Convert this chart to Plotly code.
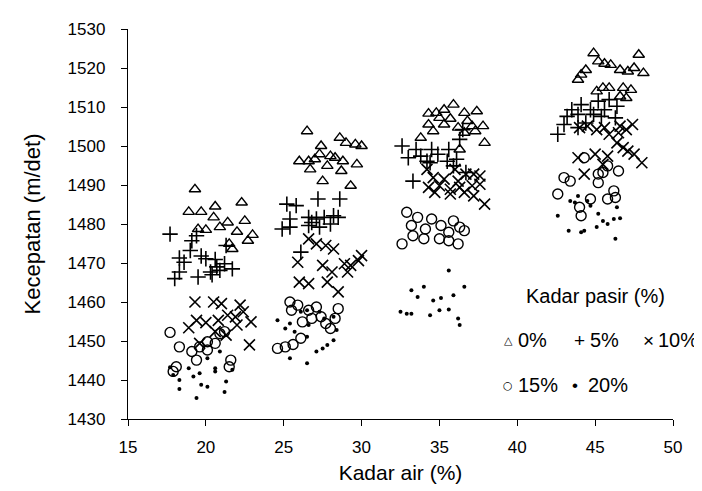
import plotly.graph_objects as go

# ---- data (Kadar air %, Kecepatan m/det) ----
x_p0 = [19.3, 18.9, 19.7, 20.6, 20.5, 22.3, 22.5, 21.4, 20.9, 22.0, 19.5, 20.0, 23.0, 22.7, 21.5, 21.7,
        26.5, 28.6, 29.0, 29.6, 30.0, 27.4, 27.3, 28.0, 28.3, 26.0, 26.6, 27.0, 28.8, 29.7, 27.8, 26.7, 28.7, 27.5, 29.3,
        35.9, 35.3, 34.8, 34.3, 36.6, 37.4, 35.0, 35.7, 36.8, 34.3, 35.3, 36.2, 37.1, 37.8, 34.6, 36.6, 37.3, 33.8, 37.9, 36.3,
        44.9, 47.8, 45.2, 45.6, 46.0, 46.6, 47.1, 47.5, 48.1, 44.4, 44.1, 43.9, 45.5, 45.9, 46.8, 47.3, 45.1, 47.0, 46.6]
y_p0 = [1488.9, 1483.1, 1483.1, 1484.5, 1481.7, 1485.5, 1480.8, 1480.4, 1479.2, 1478.0, 1478.7, 1478.5, 1477.2, 1475.7, 1474.9, 1473.6,
        1503.8, 1502.1, 1500.8, 1500.4, 1500.0, 1500.0, 1497.9, 1497.4, 1497.0, 1496.1, 1496.1, 1496.6, 1496.1, 1495.3, 1494.9, 1494.0, 1493.6, 1491.0, 1489.8,
        1510.6, 1509.3, 1508.5, 1508.3, 1508.5, 1508.9, 1507.2, 1507.0, 1506.4, 1505.5, 1505.5, 1504.7, 1505.1, 1505.1, 1503.8, 1503.4, 1503.8, 1502.1, 1500.8, 1499.1,
        1523.8, 1523.4, 1521.7, 1521.1, 1520.8, 1519.5, 1519.1, 1520.0, 1518.7, 1519.5, 1518.3, 1517.0, 1514.9, 1514.9, 1514.9, 1514.4, 1514.0, 1512.3, 1512.7]

x_p5 = [17.7, 19.1, 19.4, 19.0, 19.7, 18.3, 18.6, 20.0, 20.6, 21.2, 18.3, 18.0, 19.5, 20.3, 20.9, 21.7, 21.3, 20.4, 20.7,
        25.2, 25.8, 27.2, 28.6, 25.4, 24.9, 25.4, 26.6, 27.1, 27.6, 28.2, 26.6, 27.3, 28.0, 28.5, 26.1, 26.8,
        32.6, 33.5, 34.5, 35.6, 33.0, 33.8, 34.9, 36.1, 35.5, 34.2, 36.3, 33.3, 35.9, 36.7, 34.4, 36.5,
        44.1, 45.2, 45.9, 43.5, 44.7, 45.6, 46.4, 43.2, 43.9, 44.9, 45.4, 46.3, 43.0, 42.6, 44.4, 43.9]
y_p5 = [1477.4, 1475.7, 1477.0, 1473.2, 1471.8, 1471.3, 1470.2, 1471.1, 1470.9, 1469.8, 1467.7, 1466.0, 1466.4, 1467.7, 1468.1, 1468.5, 1474.5, 1467.0, 1469.0,
        1485.1, 1484.7, 1486.4, 1486.4, 1481.3, 1478.7, 1479.2, 1481.7, 1481.3, 1481.7, 1482.1, 1479.6, 1479.2, 1480.0, 1481.7, 1472.8, 1480.4,
        1500.0, 1499.1, 1499.1, 1499.1, 1497.0, 1497.4, 1497.9, 1496.6, 1496.1, 1496.1, 1501.7, 1491.0, 1494.9, 1493.2, 1495.7, 1504.2,
        1510.6, 1511.5, 1511.9, 1509.3, 1509.3, 1509.3, 1510.2, 1507.6, 1508.1, 1508.1, 1507.6, 1507.2, 1505.5, 1503.0, 1505.9, 1504.7]

x_p10 = [19.3, 20.5, 21.0, 22.2, 19.4, 18.9, 20.0, 20.8, 21.4, 21.9, 22.4, 22.9, 22.0, 21.3, 19.6, 22.8, 20.6,
         26.6, 27.1, 27.7, 28.2, 25.9, 27.5, 28.1, 28.9, 29.3, 29.8, 30.0, 29.1, 26.0, 26.6, 27.8, 28.5,
         34.6, 35.3, 36.2, 36.7, 37.2, 37.6, 34.3, 35.0, 35.7, 36.3, 37.1, 37.6, 34.7, 35.7, 36.6, 37.2, 37.9, 34.2, 36.0,
         44.0, 44.5, 45.1, 45.6, 46.6, 47.4, 45.9, 46.5, 47.0, 46.4, 46.8, 47.1, 47.5, 48.0, 43.9, 45.0, 45.8, 44.3, 45.5]
y_p10 = [1460.0, 1460.0, 1459.6, 1459.2, 1455.3, 1453.4, 1454.7, 1455.3, 1456.6, 1456.2, 1457.5, 1454.9, 1454.1, 1451.5, 1449.4, 1449.0, 1452.4,
         1476.2, 1474.9, 1474.5, 1473.6, 1470.2, 1469.4, 1467.7, 1469.8, 1469.4, 1470.6, 1471.9, 1467.7, 1465.1, 1464.7, 1465.1, 1462.6,
         1491.9, 1491.5, 1491.0, 1492.8, 1492.8, 1492.3, 1489.4, 1489.8, 1488.9, 1489.4, 1489.8, 1490.2, 1488.1, 1487.7, 1488.1, 1487.2, 1485.1, 1494.0, 1494.0,
         1504.7, 1505.1, 1504.2, 1504.7, 1505.1, 1505.5, 1503.0, 1503.4, 1504.2, 1500.8, 1499.6, 1498.7, 1497.9, 1495.7, 1497.0, 1497.9, 1497.4, 1492.8, 1495.3]

x_p15 = [17.7, 18.3, 19.1, 19.6, 20.1, 20.6, 20.9, 20.1, 19.4, 18.1, 17.9, 21.6, 21.5, 21.2,
         25.4, 25.9, 26.6, 27.1, 25.5, 28.5, 26.2, 26.8, 27.4, 27.7, 28.3, 28.0, 24.6, 25.1, 25.6, 26.1,
         32.9, 33.6, 34.5, 35.1, 35.9, 36.3, 36.6, 33.2, 34.1, 33.3, 34.0, 32.6, 35.0, 35.6, 36.2, 35.6,
         44.3, 43.0, 43.4, 45.5, 46.5, 45.2, 45.8, 42.6, 44.7, 44.0, 44.1, 45.8, 46.3, 46.2, 45.2]
y_p15 = [1452.2, 1448.5, 1447.3, 1448.5, 1449.8, 1449.4, 1451.9, 1447.7, 1445.1, 1443.4, 1442.2, 1445.1, 1443.4, 1452.4,
         1460.0, 1459.2, 1457.9, 1458.7, 1457.9, 1458.3, 1454.9, 1455.8, 1456.2, 1454.5, 1455.8, 1453.2, 1448.1, 1448.5, 1449.1, 1450.7,
         1483.0, 1481.7, 1481.3, 1479.6, 1480.8, 1479.2, 1478.3, 1479.6, 1478.7, 1477.0, 1476.2, 1474.9, 1476.2, 1477.9, 1474.9, 1475.7,
         1497.0, 1491.9, 1491.0, 1493.2, 1493.6, 1490.6, 1494.9, 1487.7, 1486.4, 1484.3, 1482.1, 1486.4, 1486.8, 1488.5, 1492.8]

x_p20 = [17.7, 18.3, 18.3, 18.9, 19.2, 19.6, 19.4, 19.7, 20.1, 20.1, 20.6, 20.9, 21.3, 21.2, 21.7, 17.9, 20.6,
         24.6, 25.1, 25.4, 25.7, 26.1, 26.5, 26.6, 26.5, 25.4, 26.5, 27.1, 27.5, 27.8, 28.2, 28.4, 27.6, 27.3, 28.2,
         35.6, 33.2, 33.6, 34.0, 34.6, 35.1, 35.9, 36.6, 32.5, 32.9, 33.2, 35.0, 35.6, 34.4, 36.2, 36.3,
         43.9, 43.4, 43.7, 44.5, 44.7, 42.6, 43.3, 44.1, 44.3, 45.1, 45.2, 45.5, 45.8, 46.2, 46.6, 46.4, 46.3]
y_p20 = [1443.3, 1440.0, 1437.7, 1443.0, 1440.9, 1441.7, 1435.4, 1438.8, 1438.3, 1445.6, 1443.0, 1447.3, 1439.6, 1436.9, 1442.6, 1441.3, 1442.2,
         1455.3, 1453.2, 1454.5, 1452.4, 1457.5, 1457.9, 1454.1, 1451.1, 1445.6, 1444.3, 1447.3, 1448.1, 1449.0, 1450.2, 1452.8, 1455.8, 1457.5, 1456.2,
         1468.1, 1463.0, 1461.3, 1463.9, 1460.4, 1461.0, 1461.7, 1463.9, 1457.5, 1457.0, 1457.0, 1457.9, 1458.1, 1456.6, 1455.8, 1454.1,
         1487.2, 1485.9, 1485.5, 1485.9, 1484.7, 1482.1, 1478.3, 1477.9, 1478.3, 1479.2, 1482.6, 1480.8, 1480.0, 1481.3, 1481.5, 1484.3, 1476.2]

legend_title = "Kadar pasir (%)"
series_names = ["0%", "5%", "10%", "15%", "20%"]
legend_glyphs = ["\u25B3", "+", "\u00D7", "\u25CB", "\u2022"]

# ---- figure ----
W, H = 702, 491
ML, MR, MT, MB = 120, 37, 19, 80
FONT = "Liberation Sans, Arial, sans-serif"

styles = [
    dict(symbol="triangle-up-open", size=10, line=dict(width=1.4, color="black")),
    dict(symbol="cross-thin-open", size=11, line=dict(width=1.6, color="black")),
    dict(symbol="x-thin-open", size=11, line=dict(width=1.6, color="black")),
    dict(symbol="circle-open", size=10, line=dict(width=1.4, color="black")),
    dict(symbol="circle", size=4, line=dict(width=0, color="black")),
]
data = [(x_p0, y_p0), (x_p5, y_p5), (x_p10, y_p10), (x_p15, y_p15), (x_p20, y_p20)]

fig = go.Figure()
for (xs, ys), st, nm in zip(data, styles, series_names):
    fig.add_trace(go.Scatter(x=xs, y=ys, mode="markers", name=nm, showlegend=False,
                             marker=dict(color="black", **st)))

axis_common = dict(showline=True, linecolor="black", linewidth=1.3, ticks="outside",
                   ticklen=6, tickwidth=1.3, tickcolor="black", showgrid=False, zeroline=False,
                   tickfont=dict(family=FONT, size=17, color="black"))

fig.update_xaxes(range=[15, 50], dtick=5, tick0=15, ticklabelstandoff=6,
                 title=dict(text="Kadar air (%)", font=dict(family=FONT, size=21, color="black"), standoff=9),
                 **axis_common)
fig.update_yaxes(range=[1430, 1530], dtick=10, tick0=1430, ticklabelstandoff=12,
                 title=dict(text="Kecepatan (m/det)", font=dict(family=FONT, size=22, color="black"), standoff=20),
                 **axis_common)

def pxx(v):
    return (v - ML) / (W - ML - MR)

def pxy(v):
    return (H - MB - v) / (H - MT - MB)

ann = []
ann.append(dict(text=legend_title, x=pxx(516), y=pxy(287), xanchor="left", yanchor="middle"))
row_pos = [(500, 508, 332), (571, 580, 332), (640, 648, 332), (500, 508, 377), (567, 578, 377)]
glyph_fonts = [dict(family="DejaVu Sans", size=11), dict(family=FONT, size=19),
               dict(family=FONT, size=19), dict(family="DejaVu Sans", size=11),
               dict(family=FONT, size=17)]
for g, nm, (gx, tx, yy), gf in zip(legend_glyphs, series_names, row_pos, glyph_fonts):
    ann.append(dict(text=g, x=pxx(gx), y=pxy(yy), xanchor="center", yanchor="middle",
                    font=dict(color="black", **gf)))
    ann.append(dict(text=nm, x=pxx(tx), y=pxy(yy), xanchor="left", yanchor="middle"))
for a in ann:
    a.setdefault("font", dict(family=FONT, size=20, color="black"))
    a.update(xref="paper", yref="paper", showarrow=False)

fig.update_layout(width=W, height=H, margin=dict(l=ML, r=MR, t=MT, b=MB),
                  paper_bgcolor="white", plot_bgcolor="white", annotations=ann,
                  font=dict(family=FONT, color="black"))

fig.write_html("out.html")
